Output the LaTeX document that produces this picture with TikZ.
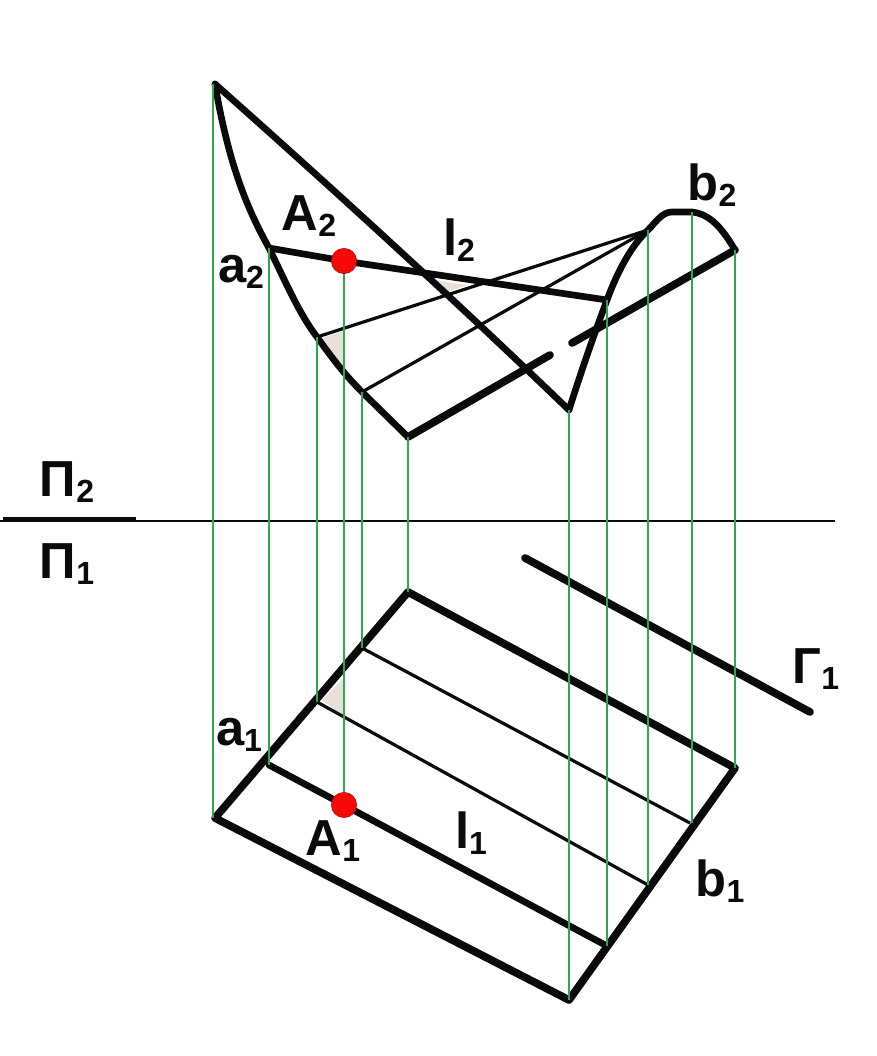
\documentclass[tikz,border=0pt]{standalone}
\usepackage{fontspec}
\setmainfont{Liberation Sans}[BoldFont=Liberation Sans Bold]
\usetikzlibrary{calc}
\definecolor{projgreen}{HTML}{2FA650}
\definecolor{shade}{HTML}{E6E1D4}
\definecolor{ink}{HTML}{0A0A0A}
\definecolor{pointred}{HTML}{F50A0A}
\newcommand{\lbl}[2]{{\fontsize{38}{38}\selectfont\bfseries #1}{\fontsize{24}{24}\selectfont\bfseries\raisebox{-5pt}{#2}}}
\tikzset{
  heavy/.style={draw=ink,line width=5.8pt,line cap=round,line join=round},
  medium/.style={draw=ink,line width=5pt,line cap=round,line join=round},
  fine/.style={draw=ink,line width=2.4pt},
  proj/.style={draw=projgreen,line width=1.7pt},
  axis/.style={draw=ink,line width=1.1pt},
  redpt/.style={circle,fill=pointred,draw=pointred!70!black,line width=.4pt,minimum size=19pt,inner sep=0pt},
  tag/.style={inner sep=0pt,text=ink,anchor=center},
  shaded/.style={fill=shade,draw=none}
}
\begin{document}
\begin{tikzpicture}[x=0.75pt,y=-0.75pt]
\useasboundingbox (0,0) rectangle (876,1056);
% vertical plane points
\coordinate (T) at (215,84);
\coordinate (a2) at (269,248);
\coordinate (m2) at (317,337);
\coordinate (n2) at (362,392);
\coordinate (C2) at (408,437);
\coordinate (E2) at (569,410);
\coordinate (r2) at (607,300);
\coordinate (s2) at (648,230);
\coordinate (b2) at (692,212);
\coordinate (D2) at (735,250);
\coordinate (gapa) at (550,355);
\coordinate (gapb) at (572,343);
\coordinate (A2) at (344,261);
% plan points
\coordinate (T1) at (215,818);
\coordinate (a1) at (269,765);
\coordinate (m1) at (317,702);
\coordinate (n1) at (362,648);
\coordinate (C1) at (408,592);
\coordinate (E1) at (569,1000);
\coordinate (r1) at (607,946);
\coordinate (s1) at (648,885);
\coordinate (b1) at (690,823);
\coordinate (D1) at (735,768);
\coordinate (A1) at (344,805);
\coordinate (G1) at (525,558);
\coordinate (G2) at (810,712);
% axis
\coordinate (Xa) at (0,521);
\coordinate (Xb) at (835,521);
\coordinate (Ya) at (3,519);
\coordinate (Yb) at (136,519);
% shaded bits
\fill[shaded] (322,338) -- (344,331) -- (344,372) -- cycle;
\fill[shaded] (433,280) -- (468,285) -- (441,294) -- cycle;
\fill[shaded] (322,700) -- (344,678) -- (344,716) -- cycle;
% axis
\draw[axis] (Xa) -- (Xb);
\draw[draw=ink,line width=3.4pt] (Ya) -- (Yb);
% thin rulings
\draw[fine] (m2) -- (s2);
\draw[fine] (n2) -- (s2);
\draw[fine] (n1) -- (b1);
\draw[fine] (m1) -- (s1);
% frontal outline
\draw[medium] (T) .. controls (228,160) and (245,205) .. (a2)
  .. controls (287,285) and (300,315) .. (m2)
  .. controls (332,358) and (345,375) .. (n2) -- (C2);
\draw[medium] (T) .. controls (340,195) and (460,305) .. (E2);
\draw[medium] (E2) .. controls (580,375) and (592,340) .. (r2)
  .. controls (618,270) and (632,245) .. (s2)
  .. controls (656,222) and (662,212) .. (672,212) -- (b2)
  .. controls (710,214) and (722,228) .. (D2);
\draw[heavy] (C2) -- (gapa);
\draw[heavy] (gapb) -- (D2);
\draw[medium] (a2) -- (A2) -- (r2);
% plan outline
\draw[heavy] (C1) -- (D1) -- (E1) -- (T1) -- cycle;
\draw[medium] (a1) -- (A1) -- (r1);
\draw[heavy] (G1) -- (G2);
% projection lines
\draw[proj] (213,84) -- (213,818);
\draw[proj] (a2) -- (a1);
\draw[proj] (m2) -- (m1);
\draw[proj] (A2) -- (A1);
\draw[proj] (n2) -- (n1);
\draw[proj] (C2) -- (C1);
\draw[proj] (E2) -- (E1);
\draw[proj] (r2) -- (r1);
\draw[proj] (s2) -- (s1);
\draw[proj] (b2) -- (692,823);
\draw[proj] (D2) -- (D1);
% points
\node[redpt] (ptA2) at (A2) {};
\node[redpt] (ptA1) at (A1) {};
% labels
\node[tag] (tA2) at (309,216) {\lbl{A}{2}};
\node[tag] (ta2) at (241,272) {\lbl{a}{2}};
\node[tag] (tl2) at (459,240) {\lbl{l}{2}};
\node[tag] (tb2) at (712,185) {\lbl{b}{2}};
\node[tag] (tP2) at (67,482) {\lbl{П}{2}};
\node[tag] (tP1) at (67,564) {\lbl{П}{1}};
\node[tag] (tG1) at (816,669) {\lbl{Г}{1}};
\node[tag] (ta1) at (239,735) {\lbl{a}{1}};
\node[tag] (tA1) at (333,841) {\lbl{A}{1}};
\node[tag] (tl1) at (471,833) {\lbl{l}{1}};
\node[tag] (tb1) at (720,881) {\lbl{b}{1}};
\end{tikzpicture}
\end{document}
